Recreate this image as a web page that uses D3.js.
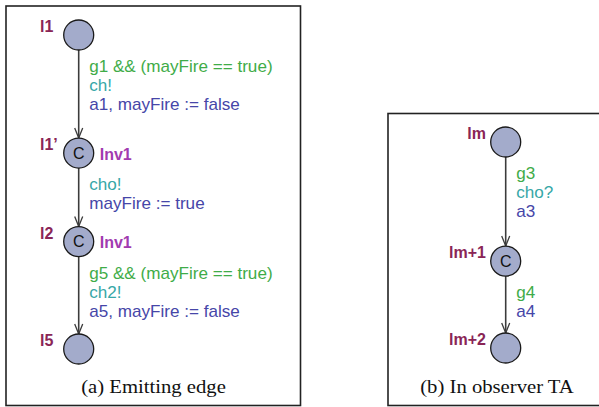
<!DOCTYPE html>
<html>
<head>
<meta charset="utf-8">
<script src="https://cdn.jsdelivr.net/npm/d3@7"></script>
<style>
  html, body { margin: 0; padding: 0; background: #fff; }
  svg { display: block; }
</style>
</head>
<body>
<svg id="chart" width="599" height="407"></svg>
<script>
// ---- Automaton (a): emitting edge ----
const emitLocations = ["l1", "l1\u2019", "l2", "l5"];
const emitCommitted = [false, true, true, false];
const emitInvariants = ["", "Inv1", "Inv1", ""];
const emitGuards  = ["g1 && (mayFire == true)", "", "g5 && (mayFire == true)"];
const emitSyncs   = ["ch!", "cho!", "ch2!"];
const emitUpdates = ["a1, mayFire := false", "mayFire := true", "a5, mayFire := false"];

// ---- Automaton (b): observer TA ----
const obsLocations = ["lm", "lm+1", "lm+2"];
const obsCommitted = [false, true, false];
const obsInvariants = ["", "", ""];
const obsGuards  = ["g3", "g4"];
const obsSyncs   = ["cho?", ""];
const obsUpdates = ["a3", "a4"];

const captions = ["(a) Emitting edge", "(b) In observer TA"];

const COLORS = {
  frame: "#222",
  node: "#a3abcb",
  nodeStroke: "#1a1a1a",
  edge: "#3c3c3c",
  name: "#8a2556",
  inv: "#a23bb0",
  guard: "#3fac48",
  sync: "#36a7a7",
  update: "#4646a8"
};

const SANS = "'Liberation Sans', Arial, Helvetica, sans-serif";
const SERIF = "'Liberation Serif', 'Times New Roman', serif";

const svg = d3.select("#chart");
const R = 15;
const LINE = 19;

function buildAutomaton(cfg) {
  const g = svg.append("g");
  const idx = d3.range(cfg.locations.length);
  // vertical position of each location along its column
  const y = d3.scaleLinear().domain(cfg.slotDomain).range(cfg.slotRange);
  const cy = i => y(cfg.slots[i]);
  const cx = cfg.cx;

  // edges with open arrowheads
  d3.range(cfg.locations.length - 1).forEach(i => {
    const y0 = cy(i) + R, y1 = cy(i + 1) - R;
    g.append("line")
      .attr("x1", cx).attr("x2", cx).attr("y1", y0).attr("y2", y1)
      .attr("stroke", COLORS.edge).attr("stroke-width", 1.6);
    g.append("path")
      .attr("d", `M${cx - 4},${y1 - 10} L${cx},${y1} L${cx + 4},${y1 - 10}`)
      .attr("fill", "none").attr("stroke", COLORS.edge).attr("stroke-width", 1.3);

    // edge label: guard / sync / update, skipping empty parts
    const lines = [
      [cfg.guards[i], COLORS.guard],
      [cfg.syncs[i], COLORS.sync],
      [cfg.updates[i], COLORS.update]
    ].filter(d => d[0]);
    g.selectAll(null).data(lines).join("text")
      .attr("transform", (d, k) => `translate(${cx + 10.5},${cy(i) + 37 + k * LINE}) scale(1.07,1)`)
      .attr("fill", d => d[1])
      .attr("font-family", SANS)
      .attr("font-size", 16)
      .text(d => d[0]);
  });

  // locations
  g.selectAll("circle.loc").data(idx).join("circle")
    .attr("class", "loc")
    .attr("cx", cx).attr("cy", cy).attr("r", R)
    .attr("fill", COLORS.node).attr("stroke", COLORS.nodeStroke).attr("stroke-width", 1.3);

  g.selectAll("text.c").data(idx.filter(i => cfg.committed[i])).join("text")
    .attr("class", "c")
    .attr("x", cx).attr("y", i => cy(i) + 5.8)
    .attr("text-anchor", "middle")
    .attr("fill", "#111")
    .attr("font-family", SANS)
    .attr("font-size", 16)
    .text("C");

  g.selectAll("text.name").data(idx).join("text")
    .attr("class", "name")
    .attr("x", cfg.nameX)
    .attr("y", i => cy(i) - 3)
    .attr("text-anchor", cfg.nameAnchor)
    .attr("fill", COLORS.name)
    .attr("font-family", SANS)
    .attr("font-weight", "bold")
    .attr("font-size", 16)
    .text(i => cfg.locations[i]);

  g.selectAll("text.inv").data(idx.filter(i => cfg.invariants[i])).join("text")
    .attr("class", "inv")
    .attr("x", cx + 21)
    .attr("y", i => cy(i) + 6.8)
    .attr("fill", COLORS.inv)
    .attr("font-family", SANS)
    .attr("font-weight", "bold")
    .attr("font-size", 16)
    .text(i => cfg.invariants[i]);

  // frame and caption
  svg.insert("rect", ":first-child")
    .attr("x", cfg.frame[0]).attr("y", cfg.frame[1])
    .attr("width", cfg.frame[2]).attr("height", cfg.frame[3])
    .attr("fill", "none").attr("stroke", COLORS.frame).attr("stroke-width", 1.6);

  g.append("text")
    .attr("transform", `translate(${cfg.captionX},392.5) scale(1.15,1)`)
    .attr("text-anchor", "middle")
    .attr("fill", "#111")
    .attr("font-family", SERIF)
    .attr("font-size", 18)
    .text(cfg.caption);
}

buildAutomaton({
  locations: emitLocations, committed: emitCommitted, invariants: emitInvariants,
  guards: emitGuards, syncs: emitSyncs, updates: emitUpdates,
  slots: [0, 1, 1.75, 2.66], slotDomain: [0, 2.66], slotRange: [35, 349],
  cx: 78.7, nameX: 40, nameAnchor: "start",
  frame: [6, 6, 294.5, 399.5], captionX: 153.5, caption: captions[0]
});

buildAutomaton({
  locations: obsLocations, committed: obsCommitted, invariants: obsInvariants,
  guards: obsGuards, syncs: obsSyncs, updates: obsUpdates,
  slots: [0, 1, 1.73], slotDomain: [0, 1.73], slotRange: [142, 348],
  cx: 505.7, nameX: 486, nameAnchor: "end",
  frame: [388, 113.5, 215, 292], captionX: 497, caption: captions[1]
});
</script>
</body>
</html>
